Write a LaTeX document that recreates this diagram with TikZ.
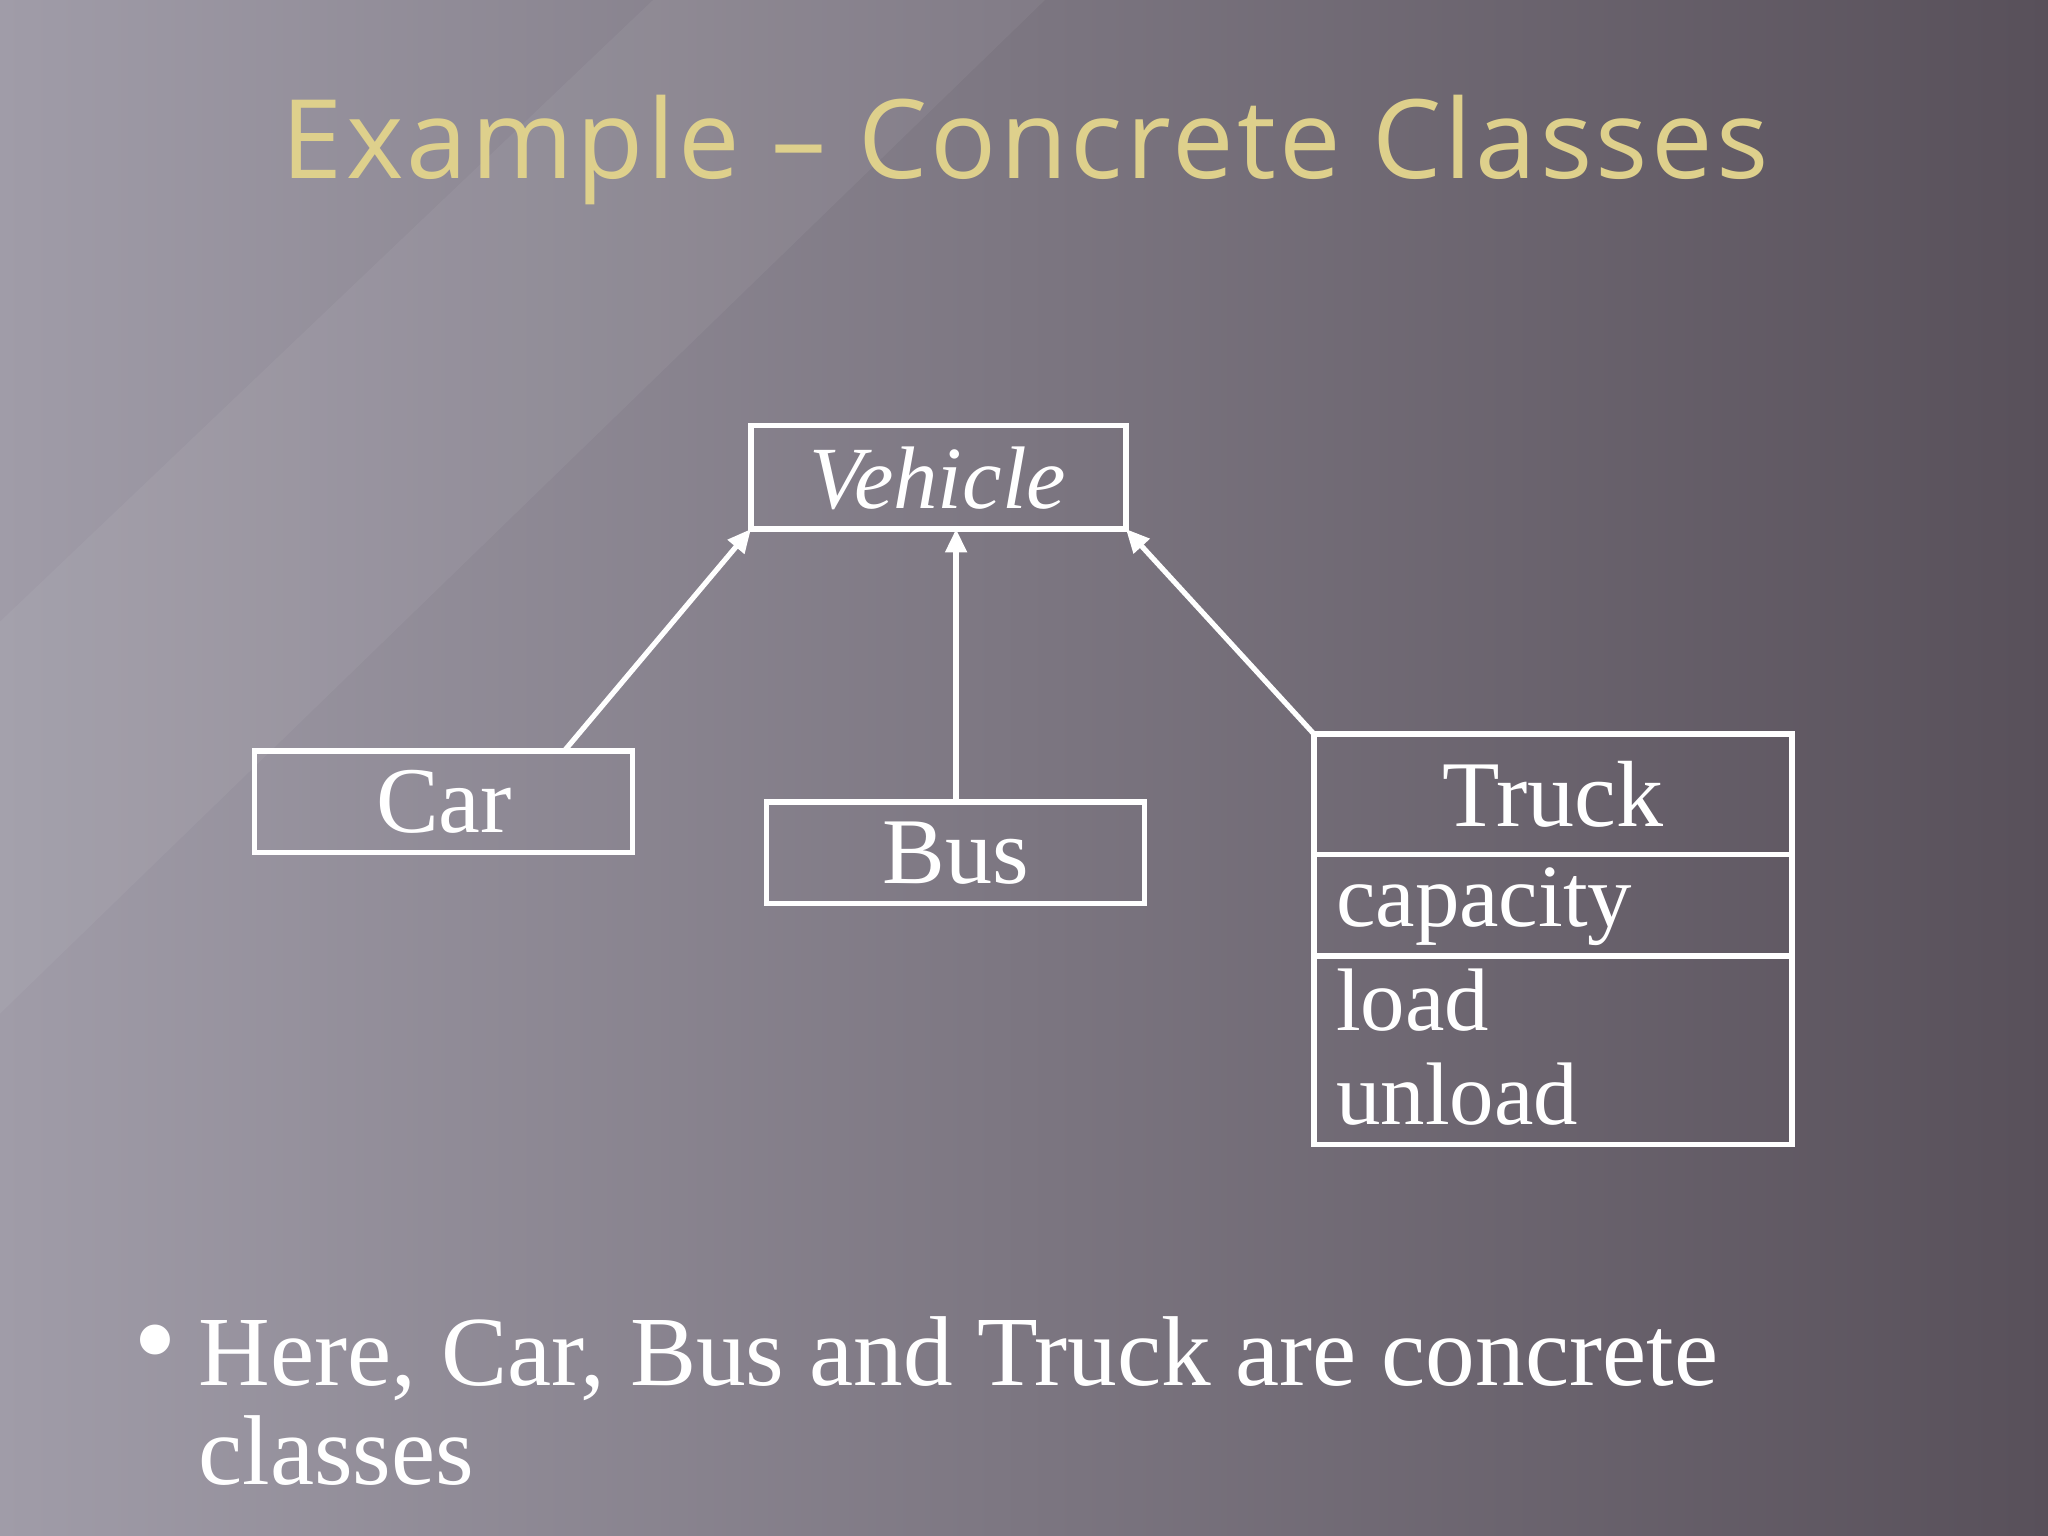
\documentclass[tikz,border=0pt]{standalone}
\usepackage{fontspec}
\setmainfont{Liberation Serif}
\newfontfamily\titlefont[LetterSpace=3]{Open Sans}
\usetikzlibrary{arrows.meta}
\definecolor{gold}{RGB}{222,208,140}
\definecolor{bgl}{RGB}{160,156,168}
\definecolor{bgr}{RGB}{88,80,90}
\begin{document}
\begin{tikzpicture}[x=0.5pt,y=0.5pt,
  cls/.style={draw=white,line width=2pt},
  lbl/.style={text=white,font=\fontsize{36}{40}\selectfont},
  inh/.style={draw=white,line width=2pt,-{Triangle[width=8pt,length=9pt,fill=white]}}]
\useasboundingbox (0,0) rectangle (1568,1176);
\shade[left color=bgl,right color=bgr] (0,0) rectangle (1568,1176);
\fill[white,opacity=0.05] (0,700) -- (500,1176) -- (800,1176) -- (0,400) -- cycle;
\node[text=gold,font=\titlefont\fontsize{42}{44}\selectfont] (title) at (785,1061) {Example – Concrete Classes};
% Vehicle
\draw[cls] (575,771) rectangle (862,850);
\node[text=white,font=\itshape\fontsize{34}{36}\selectfont] (veh) at (718,810) {Vehicle};
\coordinate (vbl) at (575,771);
\coordinate (vbm) at (732,771);
\coordinate (vbr) at (862,771);
% Car
\draw[cls] (195,523) rectangle (484,601);
\node[lbl] (car) at (340,562) {Car};
\coordinate (cart) at (432,601);
% Bus
\draw[cls] (587,484) rectangle (876,562);
\node[lbl] (bus) at (732,523) {Bus};
\coordinate (bust) at (732,562);
% Truck
\draw[cls] (1006,300) rectangle (1372,614);
\draw[cls] (1006,522) -- (1372,522);
\draw[cls] (1006,444) -- (1372,444);
\node[lbl] (truck) at (1189,568) {Truck};
\node[lbl,anchor=west,font=\fontsize{34}{40}\selectfont] (cap) at (1016,482) {capacity};
\node[lbl,anchor=west,font=\fontsize{34}{40}\selectfont] (load) at (1016,410) {load};
\node[lbl,anchor=west,font=\fontsize{34}{40}\selectfont] (unload) at (1016,338) {unload};
\coordinate (trt) at (1006,614);
\draw[inh] (cart) -- (vbl);
\draw[inh] (bust) -- (vbm);
\draw[inh] (trt) -- (vbr);
% bullet
\node[text=white,font=\fontsize{48}{48}\selectfont,anchor=west] (b) at (95,140) {\textbullet};
\node[text=white,font=\fontsize{38}{38}\selectfont,anchor=north west,align=left] (txt) at (145,175) {Here, Car, Bus and Truck are concrete\\classes};
\end{tikzpicture}
\end{document}
